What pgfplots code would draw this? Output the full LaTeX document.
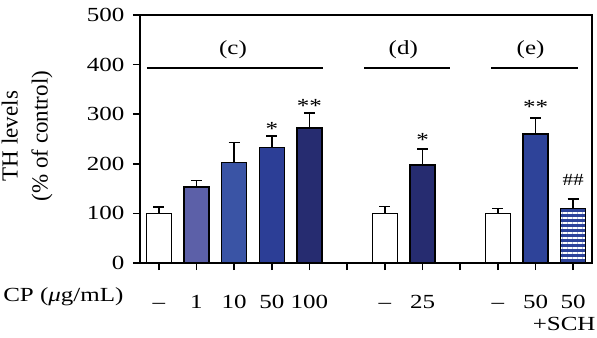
\documentclass[border=0pt]{standalone}
\usepackage{fontspec}
\setmainfont{Liberation Serif}[FakeStretch=1.25]
\newfontfamily\ylabfont{Liberation Serif}
\usepackage{pgfplots}
\pgfplotsset{compat=1.18}
\usetikzlibrary{patterns.meta}
\definecolor{cA}{RGB}{92,96,168}
\definecolor{cB}{RGB}{58,84,165}
\definecolor{cC}{RGB}{44,62,150}
\definecolor{cD}{RGB}{38,44,112}
\definecolor{cE}{RGB}{46,67,153}
\pgfplotsset{
  mybar/.style={ybar, bar shift=0pt, bar width=25bp, draw=black, line width=1.6bp},
  myerr/.style={error bars/.cd, y dir=plus, y explicit,
     error bar style={line width=1.6bp, draw=black},
     error mark options={rotate=90, mark size=5.5bp, line width=1.6bp, draw=black}},
}
\begin{document}
\begin{tikzpicture}
\begin{axis}[
  scale only axis, width=452bp, height=248bp,
  at={(0,0)}, anchor=south west,
  xmin=-0.5, xmax=11.5, ymin=0, ymax=500,
  ytick={0,100,...,500},
  xtick={0,...,11},
  xticklabels={–,1,10,50,100,,–,25,,–,50,{\begin{tabular}[t]{@{}c@{}}50\\\hspace*{-18bp}+SCH\end{tabular}}},
  tick align=outside, xtick pos=left, ytick pos=left,
  major tick length=7bp,
  tick style={line width=1.6bp, black},
  axis line style={line width=1.8bp},
  /pgf/number format/assume math mode=true,
  ticklabel style={font=\fontsize{20bp}{22bp}\selectfont},
  xticklabel style={anchor=base, yshift=-38bp},
  yticklabel style={xshift=-5bp},
  clip=false,
]
\addplot[mybar, fill=white, myerr] coordinates {(0,100) +- (0,13)};
\addplot[mybar, fill=cA, myerr] coordinates {(1,153) +- (0,13)};
\addplot[mybar, fill=cB, myerr] coordinates {(2,203) +- (0,40)};
\addplot[mybar, fill=cC, myerr] coordinates {(3,233) +- (0,23)};
\addplot[mybar, fill=cD, myerr] coordinates {(4,272) +- (0,30)};
\addplot[mybar, fill=white, myerr] coordinates {(6,100) +- (0,14)};
\addplot[mybar, fill=cD, myerr] coordinates {(7,198) +- (0,32)};
\addplot[mybar, fill=white, myerr] coordinates {(9,100) +- (0,10)};
\addplot[mybar, fill=cE, myerr] coordinates {(10,260) +- (0,32)};
\addplot[mybar, preaction={fill=cE}, pattern={Lines[distance=5bp, line width=1.5bp]}, pattern color=white] coordinates {(11,110)};
\addplot[ybar, bar shift=0pt, bar width=25bp, draw=none, fill=none, myerr] coordinates {(11,110) +- (0,19)};
% group lines
\draw[line width=1.6bp] (axis cs:-0.32,393) -- (axis cs:4.36,393);
\draw[line width=1.6bp] (axis cs:5.45,393) -- (axis cs:7.74,393);
\draw[line width=1.6bp] (axis cs:8.83,393) -- (axis cs:11.12,393);
\node[font=\fontsize{20bp}{22bp}\selectfont] at (axis cs:1.97,430) {(c)};
\node[font=\fontsize{20bp}{22bp}\selectfont] at (axis cs:6.49,430) {(d)};
\node[font=\fontsize{20bp}{22bp}\selectfont] at (axis cs:9.87,430) {(e)};
% significance marks
\node[font=\fontsize{20bp}{22bp}\selectfont] at (axis cs:3,270) {*};
\node[font=\fontsize{20bp}{22bp}\selectfont] at (axis cs:4,316) {**};
\node[font=\fontsize{20bp}{22bp}\selectfont] at (axis cs:7,248) {*};
\node[font=\fontsize{20bp}{22bp}\selectfont] at (axis cs:10,315) {**};
\node[font=\fontsize{17bp}{20bp}\selectfont] at (axis cs:11,167) {\#\#};
% labels
\node[xshift=-113bp, rotate=90, align=center, font=\ylabfont\fontsize{23bp}{30bp}\selectfont] at (rel axis cs:0,0.512) {TH levels\\(\% of control)};
\node[xshift=-13bp, yshift=-38bp, anchor=base east, font=\fontsize{20bp}{22bp}\selectfont] at (rel axis cs:0,0) {CP (\textit{μ}g/mL)};
\end{axis}
\pgfresetboundingbox
\path[use as bounding box] (-140bp,-75bp) rectangle (457bp,263bp);
\end{tikzpicture}
\end{document}
